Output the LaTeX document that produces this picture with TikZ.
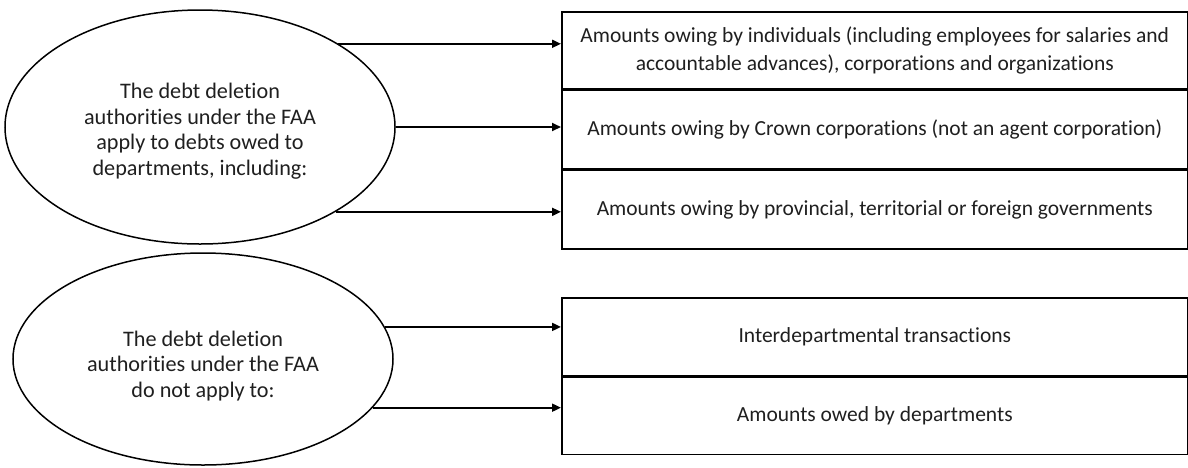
\documentclass[tikz,border=0pt]{standalone}
\usepackage{fontspec}
\setmainfont{Carlito}[Ligatures=NoCommon]
\usetikzlibrary{shapes.geometric,arrows.meta}
\begin{document}
\begin{tikzpicture}[x=1pt,y=-1pt,
  lbl/.style={font=\fontsize{21.5}{28}\selectfont, text=black!88, align=center},
  olbl/.style={font=\fontsize{22.2}{25.5}\selectfont, text=black!88, align=center},
  oval/.style={ellipse, draw, line width=1.5pt, inner sep=0pt},
  cell/.style={rectangle, draw, line width=1.6pt, minimum width=626pt, inner sep=0pt, anchor=north west},
  arr/.style={-{Triangle[length=9pt,width=8pt]}, line width=1.8pt}]
\useasboundingbox (0,0) rectangle (1188,467);

\node[oval, minimum width=390pt, minimum height=234pt,
  label={[olbl, yshift=-4pt]center:The debt deletion\\authorities under the FAA\\apply to debts owed to\\departments, including:}] (e1) at (200,127) {};
\node[oval, minimum width=380pt, minimum height=212pt,
  label={[olbl, yshift=-7pt]center:The debt deletion\\authorities under the FAA\\do not apply to:}] (e2) at (203,359) {};

\node[cell, lbl, minimum height=77pt] (b1) at (561,11)
  {Amounts owing by individuals (including employees for salaries and\\accountable advances), corporations and organizations};
\node[cell, lbl, minimum height=78pt] (b2) at (b1.south west)
  {Amounts owing by Crown corporations (not an agent corporation)};
\node[cell, lbl, minimum height=79pt] (b3) at (b2.south west)
  {Amounts owing by provincial, territorial or foreign governments};

\node[cell, lbl, minimum height=78pt] (b4) at (561,297)
  {Interdepartmental transactions};
\node[cell, lbl, minimum height=77pt] (b5) at (b4.south west)
  {Amounts owed by departments};

\draw[arr] (e1.31) -- (e1.31 -| b1.west);
\draw[arr] (e1.east) -- (e1.east -| b2.west);
\draw[arr] (e1.-32) -- (e1.-32 -| b3.west);
\draw[arr] (e2.10) -- (e2.10 -| b4.west);
\draw[arr] (e2.-16) -- (e2.-16 -| b5.west);
\end{tikzpicture}
\end{document}
